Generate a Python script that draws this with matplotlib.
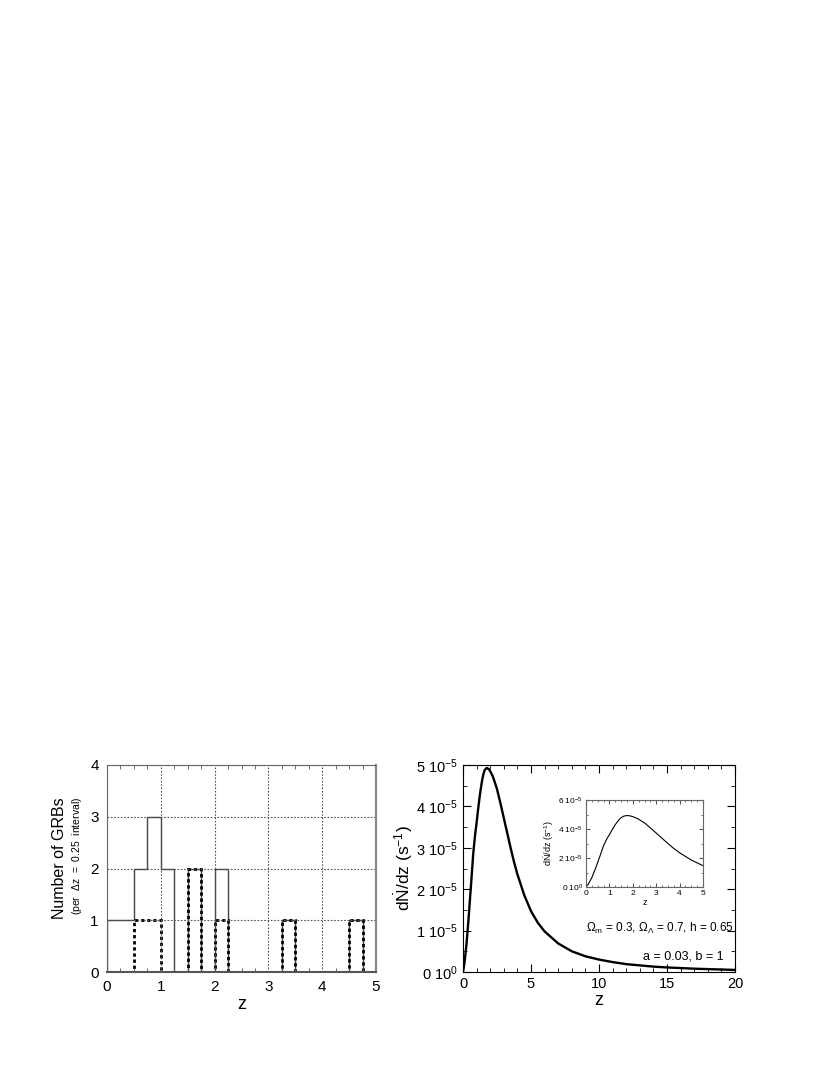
import numpy as np
import matplotlib.pyplot as plt
from matplotlib.ticker import MultipleLocator

plt.rcParams['font.family'] = ['Liberation Sans', 'DejaVu Sans']
plt.rcParams['mathtext.fontset'] = 'custom'
plt.rcParams['mathtext.rm'] = 'Liberation Sans'
plt.rcParams['mathtext.it'] = 'Liberation Sans:italic'
plt.rcParams['mathtext.bf'] = 'Liberation Sans:bold'

# ------------------------------------------------------
# histogram data (bins of dz = 0.25 from z = 0 to 5)
bin_width = 0.25
counts_all = [1, 1, 2, 3, 2, 0, 2, 0, 2, 0, 0, 0, 0, 1, 0, 0, 0, 0, 1, 0]
counts_sel = [0, 0, 1, 1, 0, 0, 2, 0, 1, 0, 0, 0, 0, 1, 0, 0, 0, 0, 1, 0]

# rate curve dN/dz, in units of 1e-5 s^-1
z_rate = [0, 0.1, 0.25, 0.4, 0.5, 0.6, 0.75, 0.9, 1.0, 1.1, 1.25, 1.4, 1.5,
          1.6, 1.75, 1.9, 2.0, 2.2, 2.5, 2.75, 3.0, 3.25, 3.5, 3.75, 4.0, 4.5,
          5.0, 5.5, 6, 7, 8, 9, 10, 11, 12, 13, 14, 15, 16, 17, 18, 19, 20]
rate = [0, 0.2, 0.65, 1.25, 1.7, 2.15, 2.85, 3.35, 3.6, 3.9, 4.3, 4.62, 4.78,
        4.88, 4.93, 4.9, 4.85, 4.72, 4.42, 4.08, 3.72, 3.36, 3.0, 2.66, 2.36,
        1.86, 1.47, 1.19, 0.98, 0.69, 0.5, 0.38, 0.3, 0.24, 0.19, 0.16, 0.13,
        0.11, 0.095, 0.08, 0.07, 0.06, 0.05]

main_yticks = [0, 1, 2, 3, 4, 5]
main_ylabels = ['0 $10^{0}$', '1 $10^{-5}$', '2 $10^{-5}$', '3 $10^{-5}$',
                '4 $10^{-5}$', '5 $10^{-5}$']
inset_yticks = [0, 2, 4, 6]
inset_ylabels = ['0 $10^{0}$', '2 $10^{-5}$', '4 $10^{-5}$', '6 $10^{-5}$']

# ------------------------------------------------------
fig = plt.figure(figsize=(8.3, 10.75), dpi=100)

W, H = 830.0, 1075.0
def box(x0, x1, y0, y1):
    return [x0 / W, 1 - y1 / H, (x1 - x0) / W, (y1 - y0) / H]

ax1 = fig.add_axes(box(107, 376, 765, 972))
ax2 = fig.add_axes(box(463, 735, 765, 972))
ax3 = fig.add_axes(box(586, 703, 800, 887))

# ------------------------------------------------------
# left panel: histogram
edges = np.arange(len(counts_all) + 1) * bin_width
ax1.stairs(counts_all, edges, color='#444444', lw=1.0, baseline=0)
ax1.stairs(counts_sel, edges, color='black', lw=2.0,
           linestyle=(0, (1.2, 1.0)), baseline=0, zorder=1)

ax1.set_xlim(0, 5)
ax1.set_ylim(0, 4)
ax1.set_xticks([0, 1, 2, 3, 4, 5])
ax1.set_yticks([0, 1, 2, 3, 4])
ax1.xaxis.set_minor_locator(MultipleLocator(0.25))
ax1.grid(True, which='major', color='#555555', linestyle=(0, (1.5, 1.5)), lw=0.8)
ax1.tick_params(which='both', direction='in', top=True, right=False,
                labelsize=11, color='#555555')
ax1.tick_params(which='major', length=0, pad=6)
ax1.tick_params(which='minor', length=3)
for s in ax1.spines.values():
    s.set_color('#666666')
ax1.spines['bottom'].set_linewidth(1.5)
ax1.spines['bottom'].set_color('#555555')
ax1.spines['top'].set_linestyle((0, (1.5, 1.0)))
ax1.spines['right'].set_linestyle((0, (1.5, 1.0)))
ax1.spines['right'].set_linewidth(1.6)
ax1.spines['right'].set_color('#888888')
ax1.set_xlabel('z', fontsize=13, labelpad=1)
ax1.text(-0.177, 0.55, 'Number of GRBs', rotation=90, transform=ax1.transAxes,
         ha='center', va='center', fontsize=11.5)
ax1.text(-0.11, 0.56, '(per  $\\Delta$z  =  0.25  interval)', rotation=90,
         transform=ax1.transAxes, ha='center', va='center', fontsize=7.5)

# ------------------------------------------------------
# right panel: rate
ax2.plot(z_rate, np.array(rate) * 1e-5, color='black', lw=1.7)
ax2.set_xlim(0, 20)
ax2.set_ylim(0, 5e-5)
ax2.set_xticks([0, 5, 10, 15, 20])
ax2.xaxis.set_minor_locator(MultipleLocator(1))
ax2.set_yticks(np.array(main_yticks) * 1e-5)
ax2.set_yticklabels(main_ylabels)
ax2.yaxis.set_minor_locator(MultipleLocator(0.5e-5))
ax2.tick_params(which='both', direction='in', top=True, right=True, labelsize=10.5)
ax2.tick_params(which='major', length=6)
ax2.tick_params(which='minor', length=3)
ax2.set_xlabel('z', fontsize=13, labelpad=1)
ax2.set_ylabel('d$\\dot{\\rm N}$/dz (s$^{-1}$)', fontsize=12.5)
ax2.yaxis.set_label_coords(-0.175, 0.5)
ax2.text(0.995, 0.21, '$\\Omega_{\\rm m}$ = 0.3, $\\Omega_{\\Lambda}$ = 0.7, h = 0.65',
         transform=ax2.transAxes, ha='right', va='center', fontsize=8.5)
ax2.text(0.81, 0.075, 'a = 0.03, b = 1', transform=ax2.transAxes,
         ha='center', va='center', fontsize=9)

# ------------------------------------------------------
# inset
ax3.plot(z_rate, np.array(rate) * 1e-5, color='black', lw=0.8)
ax3.set_xlim(0, 5)
ax3.set_ylim(0, 6e-5)
ax3.set_xticks([0, 1, 2, 3, 4, 5])
ax3.xaxis.set_minor_locator(MultipleLocator(0.25))
ax3.set_yticks(np.array(inset_yticks) * 1e-5)
ax3.set_yticklabels(inset_ylabels)
ax3.yaxis.set_minor_locator(MultipleLocator(1e-5))
ax3.tick_params(which='both', direction='in', top=True, right=True,
                labelsize=6, pad=2, color='#555555')
ax3.tick_params(which='major', length=3)
ax3.tick_params(which='minor', length=1.5)
for s in ax3.spines.values():
    s.set_color('#666666')
ax3.set_xlabel('z', fontsize=6.5, labelpad=1)
ax3.set_ylabel('d$\\dot{\\rm N}$/dz (s$^{-1}$)', fontsize=6.5, labelpad=2)

fig.savefig('out.png', dpi=100)
